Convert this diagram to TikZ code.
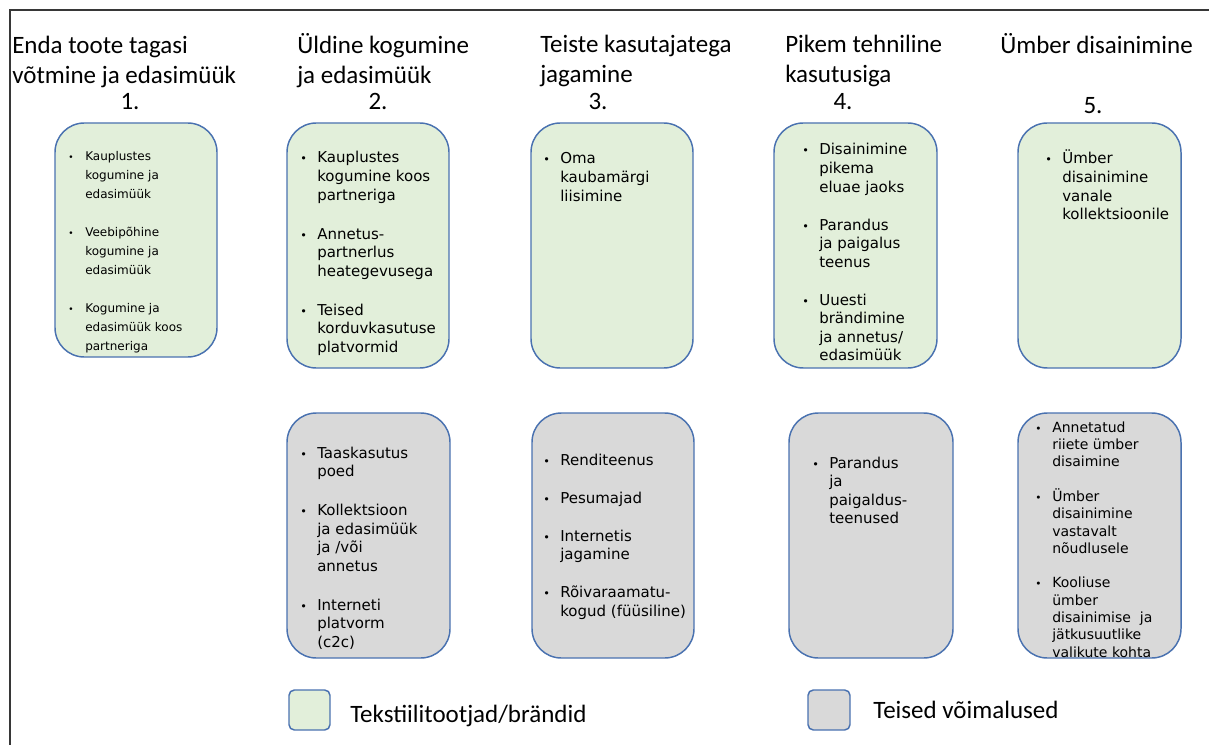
\documentclass[tikz,border=0pt]{standalone}
\usepackage{graphicx}
\usepackage{fontspec}
\setmainfont{DejaVu Sans}
\newfontfamily\headfont{Carlito}
\usetikzlibrary{fit}

\definecolor{boxline}{RGB}{74,114,176}
\definecolor{brandgreen}{RGB}{226,239,218}
\definecolor{othergray}{RGB}{217,217,217}
\definecolor{framegray}{RGB}{55,55,55}

% bullet with a fixed-width gap before the item text
\newcommand{\blt}{\makebox[12.75pt][l]{\scalebox{0.75}{•}}}
% bullet list: #1 = rows of the list
\newcommand{\blist}[1]{\begin{tabular}[t]{@{}l@{}l@{}}#1\end{tabular}}
% multi-line heading
\newcommand{\hlines}[1]{\begin{tabular}[t]{@{}l@{}}#1\end{tabular}}

\tikzset{
  optbox/.style={draw=boxline, line width=1.1pt, rounded corners=22pt, inner sep=0pt},
  brandbox/.style={optbox, fill=brandgreen},
  otherbox/.style={optbox, fill=othergray},
  keybox/.style={draw=boxline, line width=1.1pt, rounded corners=4pt, inner sep=0pt},
  listtext/.style={anchor=base west, inner sep=0pt, font=\fontsize{11.25}{13.9}\selectfont},
  heading/.style={anchor=base west, inner sep=0pt, font=\headfont\fontsize{18.75}{22.5}\selectfont},
  colnum/.style={anchor=base, inner sep=0pt, font=\headfont\fontsize{18.75}{22.5}\selectfont},
  keytext/.style={anchor=base west, inner sep=0pt, font=\headfont\fontsize{18.75}{22.5}\selectfont},
}

\begin{document}
\begin{tikzpicture}[x=0.75pt, y=-0.75pt]
\useasboundingbox (0,0) rectangle (1209,745);

% outer frame (top and left edges)
\coordinate (frameBL) at (10,745);
\coordinate (frameTL) at (10,10);
\coordinate (frameTR) at (1209,10);
\draw[framegray, line width=1.2pt] (frameBL) -- (frameTL) -- (frameTR);

% column headings
\node[heading] (h1) at (12,54) {\hlines{Enda toote tagasi\\võtmine ja edasimüük}};
\node[heading] (h2) at (297,54) {\hlines{Üldine kogumine\\ja edasimüük}};
\node[heading] (h3) at (540,53) {\hlines{Teiste kasutajatega\\jagamine}};
\node[heading] (h4) at (785,53) {\hlines{Pikem tehniline\\kasutusiga}};
\node[heading] (h5) at (1000,54) {Ümber disainimine};

\node[colnum] (n1) at (130,110) {1.};
\node[colnum] (n2) at (378,110) {2.};
\node[colnum] (n3) at (598,110) {3.};
\node[colnum] (n4) at (843,110) {4.};
\node[colnum] (n5) at (1093,114) {5.};

% brand (green) boxes
\node[brandbox, fit={(55,123) (217,357)}] (g1) {};
\node[brandbox, fit={(287,123) (449,368)}] (g2) {};
\node[brandbox, fit={(531,123) (693,368)}] (g3) {};
\node[brandbox, fit={(774,123) (937,368)}] (g4) {};
\node[brandbox, fit={(1018,123) (1181,368)}] (g5) {};

% other options (grey) boxes
\node[otherbox, fit={(287,413) (450,658)}] (o2) {};
\node[otherbox, fit={(532,413) (694,658)}] (o3) {};
\node[otherbox, fit={(789,413) (953,658)}] (o4) {};
\node[otherbox, fit={(1018,413) (1181,658)}] (o5) {};

% box texts
\node[listtext, font=\fontsize{9}{14.25}\selectfont] (t1) at (68,161) {\blist{%
\blt & Kauplustes\\ & kogumine ja\\ & edasimüük\\[14.25pt]
\blt & Veebipõhine\\ & kogumine ja\\ & edasimüük\\[14.25pt]
\blt & Kogumine ja\\ & edasimüük koos\\ & partneriga}};

\node[listtext] (t2) at (300,163) {\blist{%
\blt & Kauplustes\\ & kogumine koos\\ & partneriga\\[15.4pt]
\blt & Annetus-\\ & partnerlus\\ & heategevusega\\[15.4pt]
\blt & Teised\\ & korduvkasutuse\\ & platvormid}};

\node[listtext] (t3) at (543,164) {\blist{%
\blt & Oma\\ & kaubamärgi\\ & liisimine}};

\node[listtext] (t4) at (802,155) {\blist{%
\blt & Disainimine\\ & pikema\\ & eluae jaoks\\[14.6pt]
\blt & Parandus\\ & ja paigalus\\ & teenus\\[14.6pt]
\blt & Uuesti\\ & brändimine\\ & ja annetus/\\ & edasimüük}};

\node[listtext] (t5) at (1045,164) {\blist{%
\blt & Ümber\\ & disainimine\\ & vanale\\ & kollektsioonile}};

\node[listtext] (u2) at (300,458) {\blist{%
\blt & Taaskasutus\\ & poed\\[15.4pt]
\blt & Kollektsioon\\ & ja edasimüük\\ & ja /või\\ & annetus\\[15.4pt]
\blt & Interneti\\ & platvorm\\ & (c2c)}};

\node[listtext] (u3) at (543,465) {\blist{%
\blt & Renditeenus\\[14.6pt]
\blt & Pesumajad\\[14.6pt]
\blt & Internetis\\ & jagamine\\[14.6pt]
\blt & Rõivaraamatu-\\ & kogud (füüsiline)}};

\node[listtext] (u4) at (812,468) {\blist{%
\blt & Parandus\\ & ja\\ & paigaldus-\\ & teenused}};

\node[listtext, font=\fontsize{10.5}{13}\selectfont] (u5) at (1035,432) {\blist{%
\blt & Annetatud\\ & riiete ümber\\ & disaimine\\[12.75pt]
\blt & Ümber\\ & disainimine\\ & vastavalt\\ & nõudlusele\\[12.75pt]
\blt & Kooliuse\\ & ümber\\ & disainimise\ \ ja\\ & jätkusuutlike\\ & valikute kohta}};

% legend
\node[keybox, fill=brandgreen, fit={(289,690) (330,730)}] (kg) {};
\node[keytext] (kgt) at (350,722) {Tekstiilitootjad/brändid};
\node[keybox, fill=othergray, fit={(808,690) (850,730)}] (ko) {};
\node[keytext] (kot) at (873,718) {Teised võimalused};
\end{tikzpicture}
\end{document}
